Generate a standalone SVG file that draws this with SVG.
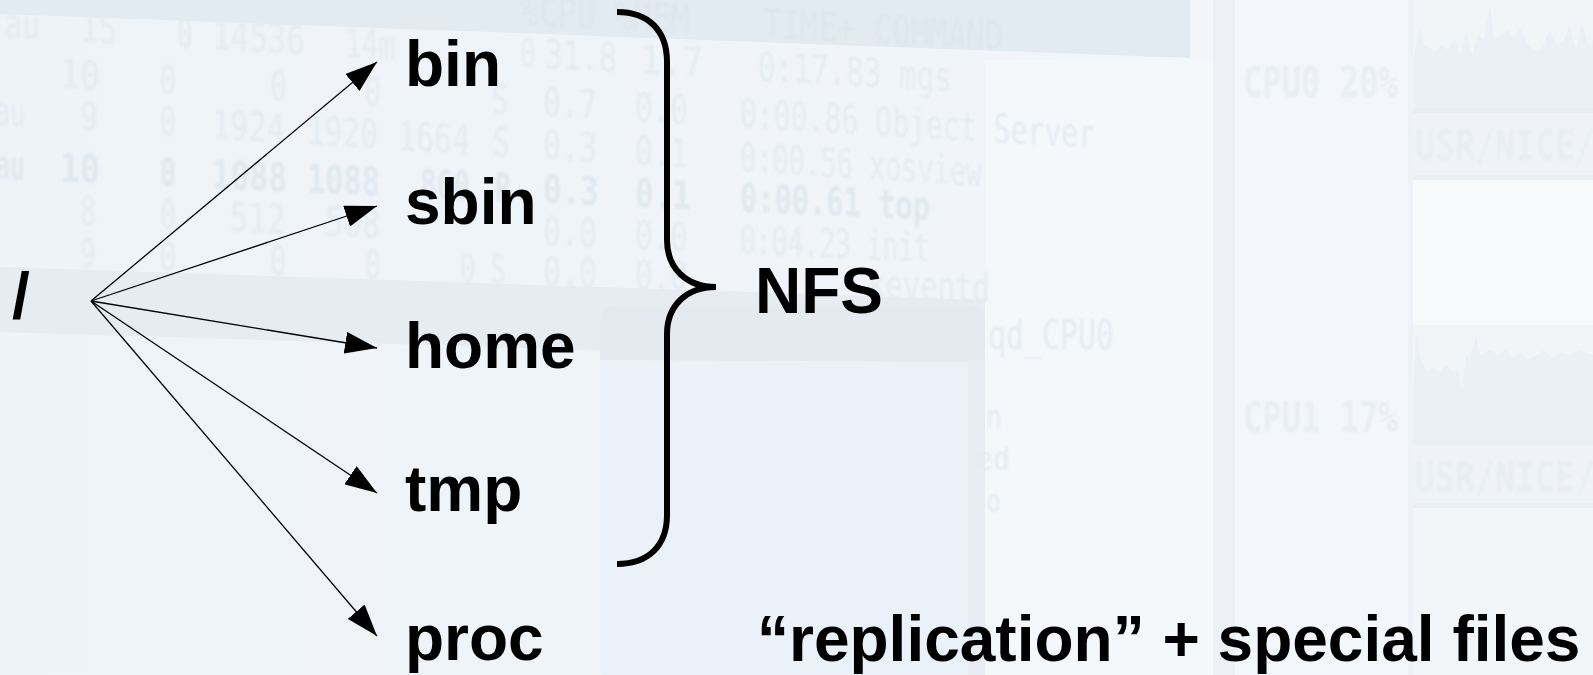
<svg xmlns="http://www.w3.org/2000/svg" width="1593" height="675" viewBox="0 0 1593 675">
  <style>
    .lbl { font-family: "Liberation Sans", Arial, sans-serif; font-weight: bold; font-size: 64px; fill: #000; }
    .edge { stroke: #000; stroke-width: 1.3; fill: none; marker-end: url(#ah); }
    .brace { stroke: #000; stroke-width: 6; fill: none; stroke-linecap: butt; }
    .bgt { font-family: "DejaVu Sans Mono", "Liberation Mono", monospace; font-size: 40px; fill: #e4ebf2; }
    .bgt2 { font-family: "DejaVu Sans Mono", "Liberation Mono", monospace; font-weight: bold; font-size: 42px; fill: #e9eef4; }
  </style>
  <defs>
    <marker id="ah" viewBox="0 0 32 22" refX="32" refY="11" markerWidth="32" markerHeight="22" orient="auto" markerUnits="userSpaceOnUse">
      <path d="M0,0 L32,11 L0,22 z" fill="#000"/>
    </marker>
    <linearGradient id="bgGrad" x1="0" y1="0" x2="1" y2="0">
      <stop offset="0" stop-color="#eef3f8"/>
      <stop offset="0.6" stop-color="#f1f5f9"/>
      <stop offset="1" stop-color="#f5f8fb"/>
    </linearGradient>
    <filter id="soft" x="-5%" y="-5%" width="110%" height="110%">
      <feGaussianBlur stdDeviation="1.2"/>
    </filter>
  </defs>

  <!-- faded desktop backdrop -->
  <g id="backdrop">
    <rect x="0" y="0" width="1593" height="675" fill="url(#bgGrad)"/>
    <!-- process table header bar -->
    <polygon points="0,0 1190,0 1190,58 0,14" fill="#e3ebf2"/>
    <!-- selected row band -->
    <polygon points="0,267 985,300 985,362 0,332" fill="#e7ecf0"/>
    <!-- small window -->
    <rect x="600" y="305" width="385" height="380" rx="16" fill="#eaf1f8"/>
    <path d="M600,360 L600,321 Q600,305 616,305 L969,305 Q985,305 985,321 L985,362 Z" fill="#e5eaf0"/>
    <rect x="968" y="360" width="17" height="315" fill="#e7edf3"/>
    <!-- monitor panel on the right -->
    <rect x="985" y="60" width="228" height="615" fill="#f5f8fb"/>
    <rect x="1213" y="0" width="22" height="675" fill="#edf1f6"/>
    <rect x="1235" y="0" width="173" height="675" fill="#f3f6fa"/>
    <rect x="1408" y="0" width="5" height="675" fill="#eef2f7"/>
    <rect x="1413" y="0" width="180" height="108" fill="#f1f5f8"/>
    <path d="M1413,60 L1420,25 L1424,45 L1430,48 L1436,52 L1442,45 L1448,50 L1455,38 L1460,58 L1466,30 L1472,55 L1478,35 L1484,40 L1490,5 L1494,40 L1500,35 L1508,30 L1514,38 L1520,28 L1528,45 L1534,50 L1542,48 L1550,30 L1556,45 L1564,40 L1570,25 L1576,50 L1582,22 L1588,45 L1593,40 L1593,108 L1413,108 Z" fill="#eaf0f5"/>
    <rect x="1413" y="108" width="180" height="5" fill="#e8edf3"/>
    <rect x="1413" y="113" width="180" height="62" fill="#eff3f7"/>
    <rect x="1413" y="175" width="180" height="5" fill="#eaeff4"/>
    <rect x="1413" y="180" width="180" height="145" fill="#f7f9fb"/>
    <rect x="1413" y="325" width="180" height="115" fill="#f2f5f8"/>
    <path d="M1413,395 L1416,330 L1420,355 L1426,372 L1432,368 L1440,372 L1446,365 L1452,372 L1458,368 L1462,390 L1466,355 L1470,360 L1476,335 L1480,355 L1490,350 L1498,355 L1506,350 L1512,358 L1520,352 L1528,360 L1536,355 L1544,350 L1552,358 L1560,352 L1570,355 L1580,350 L1593,355 L1593,440 L1413,440 Z" fill="#ebf0f5"/>
    <rect x="1413" y="440" width="180" height="5" fill="#e9eef3"/>
    <rect x="1413" y="445" width="180" height="58" fill="#eff3f7"/>
    <rect x="1413" y="503" width="180" height="5" fill="#eaeff4"/>
    <rect x="1413" y="508" width="180" height="167" fill="#f3f6f9"/>

    <!-- process listing, each row leaning with the screen -->
    <g class="bgt" filter="url(#soft)">
      <g transform="skewY(3.03)" fill="#dde6ee">
        <text x="520" y="-3" textLength="170" lengthAdjust="spacingAndGlyphs">%CPU %MEM</text>
        <text x="763" y="-3" textLength="240" lengthAdjust="spacingAndGlyphs">TIME+  COMMAND</text>
      </g>
      <g transform="skewY(3.26)">
        <text x="4" y="37" textLength="36" lengthAdjust="spacingAndGlyphs">au</text>
        <text x="80" y="37" textLength="37" lengthAdjust="spacingAndGlyphs">15</text>
        <text x="177" y="37" textLength="16" lengthAdjust="spacingAndGlyphs">0</text>
        <text x="212" y="37" textLength="93" lengthAdjust="spacingAndGlyphs">14536</text>
        <text x="345" y="37" textLength="50" lengthAdjust="spacingAndGlyphs">14m</text>
        <text x="520" y="37" textLength="16" lengthAdjust="spacingAndGlyphs">0</text>
        <text x="545" y="37" textLength="72" lengthAdjust="spacingAndGlyphs">31.8</text>
        <text x="640" y="37" textLength="63" lengthAdjust="spacingAndGlyphs">1.7</text>
        <text x="758" y="37" textLength="194" lengthAdjust="spacingAndGlyphs">0:17.83 mgs</text>
      </g>
      <g transform="skewY(3.35)">
        <text x="60" y="84" textLength="40" lengthAdjust="spacingAndGlyphs">10</text>
        <text x="160" y="84" textLength="16" lengthAdjust="spacingAndGlyphs">0</text>
        <text x="270" y="84" textLength="17" lengthAdjust="spacingAndGlyphs">0</text>
        <text x="364" y="84" textLength="17" lengthAdjust="spacingAndGlyphs">0</text>
        <text x="492" y="84" textLength="16" lengthAdjust="spacingAndGlyphs">S</text>
        <text x="543" y="84" textLength="54" lengthAdjust="spacingAndGlyphs">0.7</text>
        <text x="635" y="84" textLength="53" lengthAdjust="spacingAndGlyphs">0.0</text>
        <text x="740" y="84" textLength="355" lengthAdjust="spacingAndGlyphs">0:00.86 Object Server</text>
      </g>
      <g transform="skewY(3.55)">
        <text x="-5" y="125" textLength="30" lengthAdjust="spacingAndGlyphs">au</text>
        <text x="80" y="125" textLength="18" lengthAdjust="spacingAndGlyphs">9</text>
        <text x="160" y="125" textLength="16" lengthAdjust="spacingAndGlyphs">0</text>
        <text x="212" y="125" textLength="73" lengthAdjust="spacingAndGlyphs">1924</text>
        <text x="307" y="125" textLength="71" lengthAdjust="spacingAndGlyphs">1920</text>
        <text x="398" y="125" textLength="72" lengthAdjust="spacingAndGlyphs">1664</text>
        <text x="493" y="125" textLength="17" lengthAdjust="spacingAndGlyphs">S</text>
        <text x="543" y="125" textLength="54" lengthAdjust="spacingAndGlyphs">0.3</text>
        <text x="635" y="125" textLength="53" lengthAdjust="spacingAndGlyphs">0.1</text>
        <text x="740" y="125" textLength="242" lengthAdjust="spacingAndGlyphs">0:00.56 xosview</text>
      </g>
      <g transform="skewY(2.52)" fill="#e0e8f0" font-weight="bold">
        <text x="-5" y="179" textLength="30" lengthAdjust="spacingAndGlyphs">au</text>
        <text x="60" y="179" textLength="40" lengthAdjust="spacingAndGlyphs">10</text>
        <text x="160" y="179" textLength="16" lengthAdjust="spacingAndGlyphs">0</text>
        <text x="212" y="179" textLength="75" lengthAdjust="spacingAndGlyphs">1088</text>
        <text x="307" y="179" textLength="73" lengthAdjust="spacingAndGlyphs">1088</text>
        <text x="420" y="179" textLength="50" lengthAdjust="spacingAndGlyphs">860</text>
        <text x="495" y="179" textLength="16" lengthAdjust="spacingAndGlyphs">R</text>
        <text x="543" y="179" textLength="56" lengthAdjust="spacingAndGlyphs">0.3</text>
        <text x="635" y="179" textLength="56" lengthAdjust="spacingAndGlyphs">0.1</text>
        <text x="740" y="179" textLength="190" lengthAdjust="spacingAndGlyphs">0:00.61 top</text>
      </g>
      <g transform="skewY(2.52)">
        <text x="80" y="221" textLength="16" lengthAdjust="spacingAndGlyphs">8</text>
        <text x="160" y="221" textLength="16" lengthAdjust="spacingAndGlyphs">0</text>
        <text x="230" y="221" textLength="55" lengthAdjust="spacingAndGlyphs">512</text>
        <text x="325" y="221" textLength="55" lengthAdjust="spacingAndGlyphs">508</text>
        <text x="543" y="221" textLength="54" lengthAdjust="spacingAndGlyphs">0.0</text>
        <text x="635" y="221" textLength="53" lengthAdjust="spacingAndGlyphs">0.0</text>
        <text x="740" y="221" textLength="190" lengthAdjust="spacingAndGlyphs">0:04.23 init</text>
      </g>
      <g transform="skewY(2.23)">
        <text x="80" y="264" textLength="16" lengthAdjust="spacingAndGlyphs">9</text>
        <text x="160" y="264" textLength="16" lengthAdjust="spacingAndGlyphs">0</text>
        <text x="270" y="264" textLength="16" lengthAdjust="spacingAndGlyphs">0</text>
        <text x="365" y="264" textLength="16" lengthAdjust="spacingAndGlyphs">0</text>
        <text x="460" y="264" textLength="46" lengthAdjust="spacingAndGlyphs">0 S</text>
        <text x="543" y="264" textLength="54" lengthAdjust="spacingAndGlyphs">0.0</text>
        <text x="635" y="264" textLength="53" lengthAdjust="spacingAndGlyphs">0.0</text>
        <text x="868" y="264" textLength="122" lengthAdjust="spacingAndGlyphs">keventd</text>
      </g>
      <text x="988" y="349" textLength="126" lengthAdjust="spacingAndGlyphs">qd_CPU0</text>
      <g font-size="32">
        <text x="986" y="428" textLength="16" lengthAdjust="spacingAndGlyphs">n</text>
        <text x="976" y="470" textLength="34" lengthAdjust="spacingAndGlyphs">ed</text>
        <text x="986" y="512" textLength="15" lengthAdjust="spacingAndGlyphs">o</text>
      </g>
    </g>
    <g class="bgt2" filter="url(#soft)">
      <text x="1243" y="97" textLength="155" lengthAdjust="spacingAndGlyphs">CPU0  20%</text>
      <text x="1415" y="160" textLength="200" lengthAdjust="spacingAndGlyphs">USR/NICE/S</text>
      <text x="1243" y="432" textLength="155" lengthAdjust="spacingAndGlyphs">CPU1  17%</text>
      <text x="1415" y="492" textLength="200" lengthAdjust="spacingAndGlyphs">USR/NICE/S</text>
    </g>
  </g>

  <!-- connectors from the root directory -->
  <g id="connectors">
    <line class="edge" x1="91" y1="301" x2="377" y2="62"/>
    <line class="edge" x1="91" y1="301" x2="377" y2="206"/>
    <line class="edge" x1="91" y1="301" x2="377" y2="348"/>
    <line class="edge" x1="91" y1="301" x2="377" y2="493"/>
    <line class="edge" x1="91" y1="301" x2="377" y2="636"/>
  </g>

  <g id="node-root"><text class="lbl" x="12" y="318">/</text></g>
  <g id="node-bin"><text class="lbl" x="405" y="86">bin</text></g>
  <g id="node-sbin"><text class="lbl" x="405" y="224">sbin</text></g>
  <g id="node-home"><text class="lbl" x="405" y="368">home</text></g>
  <g id="node-tmp"><text class="lbl" x="405" y="511">tmp</text></g>
  <g id="node-proc"><text class="lbl" x="405" y="660">proc</text></g>

  <g id="node-nfs">
    <path class="brace" d="M617,12 C648,12 667,30 667,62 L667,240 C667,268 686,287 716,287 C686,287 667,306 667,334 L667,515 C667,546 648,564 617,564"/>
    <text class="lbl" x="755" y="313">NFS</text>
  </g>

  <g id="node-replication">
    <text class="lbl" x="757" y="661">“replication” + special files</text>
  </g>
</svg>
